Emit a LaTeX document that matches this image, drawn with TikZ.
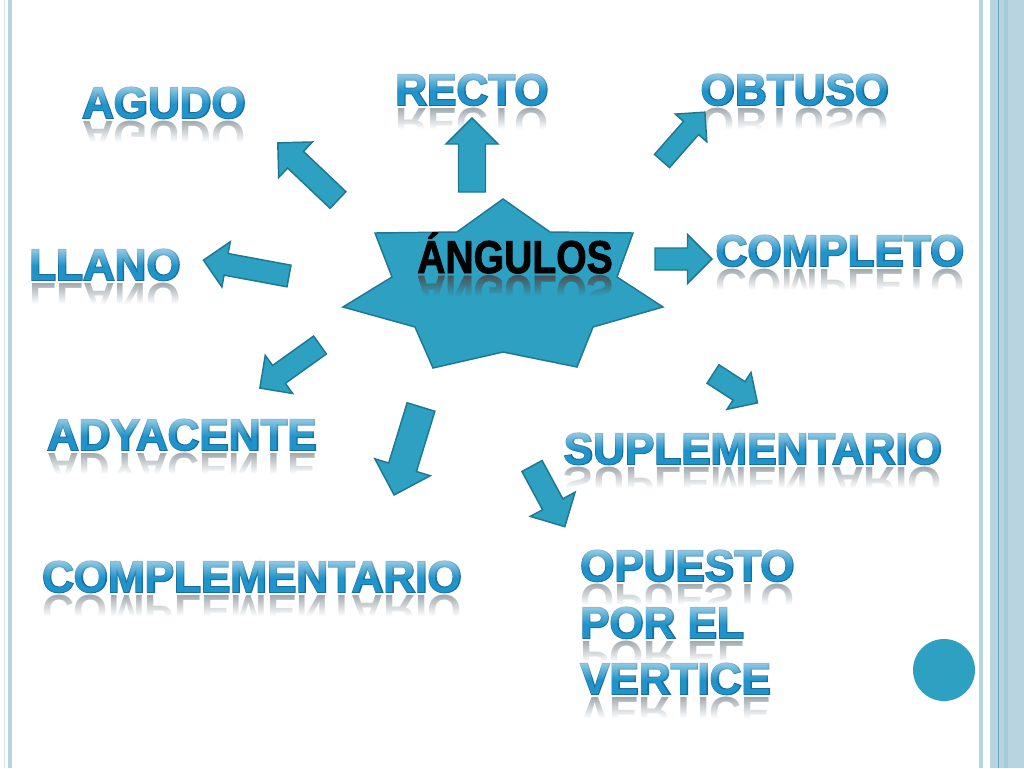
\documentclass[tikz,border=0pt]{standalone}
\usepackage{fontspec}
\setmainfont{Liberation Sans}
\newfontfamily\wafont{Liberation Sans Bold}
\newfontfamily\waoutfont{Liberation Sans Bold}[FakeBold=4]
\newfontfamily\angfont{Liberation Sans Bold}[FakeBold=2]
\usetikzlibrary{fadings,calc}

\definecolor{teal1}{HTML}{2EA0C1}
\definecolor{tealdark}{HTML}{1F7892}
\definecolor{wablue}{HTML}{1F93CA}
\definecolor{waout}{HTML}{176E9C}
\definecolor{border}{HTML}{B8D4E0}
\definecolor{borderpale}{HTML}{D3E5EE}
\definecolor{borderline}{HTML}{6FA6C0}
\definecolor{bordermid}{HTML}{A9CAD9}
\definecolor{reflgray}{HTML}{8C969C}

\tikzfading[name=reflfade, top color=transparent!88, bottom color=transparent!0]
\tikzfading[name=hifade, top color=transparent!40, bottom color=transparent!100]

\tikzset{
  arrowbox/.style={draw=tealdark, fill=teal1, line width=1.1pt, line join=miter},
  watext/.style={font=\wafont\fontsize{33}{33}\selectfont, text=wablue, inner sep=0pt},
  waoutl/.style={font=\waoutfont\fontsize{33}{33}\selectfont, text=waout, inner sep=0pt},
  warefl/.style={font=\wafont\fontsize{33}{33}\selectfont, text=reflgray, inner sep=0pt, yscale=-1},
  starshape/.style={draw=tealdark, fill=teal1, line width=1.1pt, line join=miter},
  angtext/.style={font=\angfont\fontsize{34.5}{34.5}\selectfont, inner sep=0pt, xscale=0.85},
}

% name, anchor, x, baseline y, text
\newcommand\wordart[5]{%
  \begin{scope}[shift={(#3,#4)}]
    \node[warefl, anchor=#2] (#1r) at (0,3) {#5};
    \fill[white, path fading=reflfade] ($(#1r.west |- 0,1)+(-4,0)$) rectangle ($(#1r.east |- 0,24)+(4,0)$);
    \fill[white] ($(#1r.west |- 0,24)+(-4,0)$) rectangle ($(#1r.east |- 0,40)+(4,0)$);
    \node[waoutl, anchor=#2] at (0,0) {#5};
    \node[watext, anchor=#2] (#1) at (0,0) {#5};
    \fill[white, path fading=hifade] ($(#1.west |- 0,-34)+(-4,0)$) rectangle ($(#1.east |- 0,-14)+(4,0)$);
  \end{scope}}

% name, tail x, tail y, angle, length, head width, shaft width (all in px)
\newcommand\blockarrow[7]{%
  \begin{scope}[shift={(#2,#3)}, rotate=#4]
    \coordinate (#1tail) at (0,0);
    \coordinate (#1tip) at (#5,0);
    \draw[arrowbox] (0,#7/2) -- (#5-#6/2,#7/2) -- (#5-#6/2,#6/2) -- (#1tip)
      -- (#5-#6/2,-#6/2) -- (#5-#6/2,-#7/2) -- (0,-#7/2) -- cycle;
  \end{scope}}

\begin{document}
\begin{tikzpicture}[x=0.75pt, y=-0.75pt]
\useasboundingbox (0,0) rectangle (1024,768);
\fill[white] (0,0) rectangle (1024,768);

% slide borders
\draw[borderpale, line width=0.8pt] (4.5,0) -- (4.5,768);
\fill[border] (8,0) rectangle (12,768);
\fill[border] (979,0) rectangle (983,768);
\fill[border] (990,0) rectangle (1024,768);
\fill[bordermid] (1004,0) rectangle (1008,768);
\draw[borderline, line width=0.7pt] (998,0) -- (998,768);

% word art labels
\wordart{agudo}{base}{164}{118}{AGUDO}
\wordart{recto}{base}{472}{105}{RECTO}
\wordart{obtuso}{base}{795}{105}{OBTUSO}
\wordart{llano}{base}{105}{280}{LLANO}
\wordart{completo}{base}{840}{266}{COMPLETO}
\wordart{adyacente}{base}{182}{450}{ADYACENTE}
\wordart{suplementario}{base}{753}{464}{SUPLEMENTARIO}
\wordart{complementario}{base}{252}{592}{COMPLEMENTARIO}
\wordart{opuesto}{base west}{580}{581}{OPUESTO}
\wordart{porel}{base west}{580}{638}{POR EL}
\wordart{vertice}{base west}{580}{694}{VERTICE}

% block arrows
\blockarrow{aAgudo}{338}{200}{136.5}{83}{49}{23}
\blockarrow{aLlano}{289}{276}{169.5}{87}{46}{22}
\blockarrow{aRecto}{472}{192}{90}{74}{52}{27}
\blockarrow{aObtuso}{662}{161}{48.7}{65}{42}{20}
\blockarrow{aCompleto}{655}{259}{0}{57}{49}{22}
\blockarrow{aSuplementario}{713}{374}{-33}{53}{44}{22}
\blockarrow{aAdyacente}{320}{345}{215.6}{74}{47}{22}
\blockarrow{aComplementario}{421}{407}{253}{92}{58}{29}
\blockarrow{aOpuesto}{532}{466}{-61.6}{69}{51}{23}

% central star
\draw[starshape] (503,199) -- (550,232) -- (633,233) -- (617,277) -- (663,307)
  -- (593,327) -- (577,367) -- (503,352) -- (433,368) -- (415,327) -- (343,307)
  -- (392,277) -- (375,233) -- (457,232) -- cycle;

\begin{scope}[shift={(515,276)}]
  \node[angtext, text=black!70, yscale=-1, anchor=base] (angulosr) at (0,0) {ÁNGULOS};
\end{scope}
\fill[teal1, path fading=reflfade] (414,276) rectangle (616,296);
\fill[teal1] (414,296) rectangle (616,319);
\begin{scope}[shift={(515,273)}]
  \node[angtext, text=black, anchor=base] (angulos) at (0,0) {ÁNGULOS};
\end{scope}

% decorative dot
\node[circle, fill=teal1, minimum size=46.5pt, inner sep=0pt] (dot) at (944,670) {};
\end{tikzpicture}
\end{document}
